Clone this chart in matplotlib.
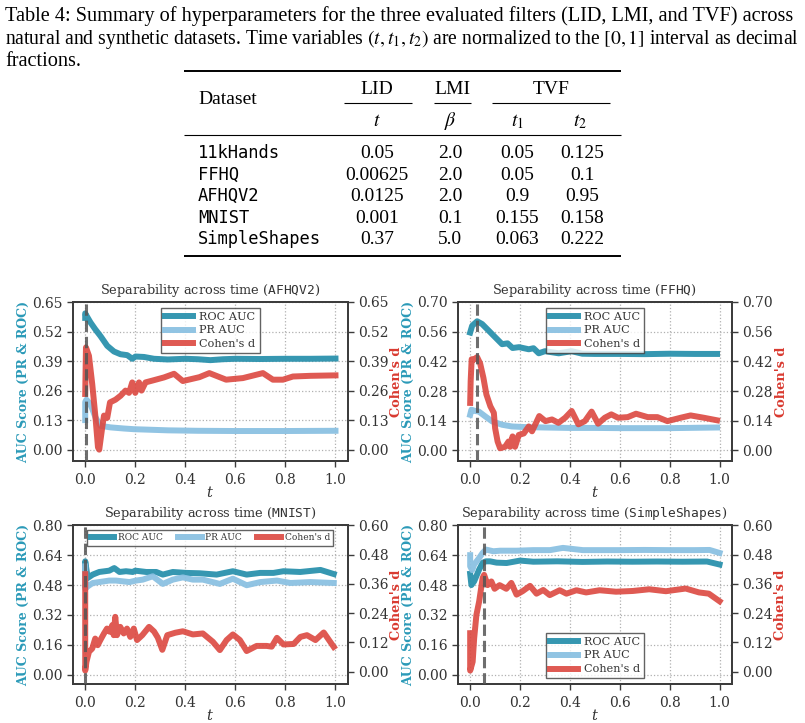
import matplotlib
matplotlib.use('Agg')
import matplotlib.pyplot as plt
from matplotlib.lines import Line2D

plt.rcParams['font.family'] = 'DejaVu Serif'
plt.rcParams['mathtext.fontset'] = 'dejavuserif'

# ---------------- table data ----------------
caption_lines = [
    "Table 4: Summary of hyperparameters for the three evaluated filters (LID, LMI, and TVF) across",
    "natural and synthetic datasets. Time variables $(t, t_1, t_2)$ are normalized to the $[0, 1]$ interval as decimal",
    "fractions.",
]
datasets = ['11kHands', 'FFHQ', 'AFHQV2', 'MNIST', 'SimpleShapes']
lid_t = ['0.05', '0.00625', '0.0125', '0.001', '0.37']
lmi_beta = ['2.0', '2.0', '2.0', '0.1', '5.0']
tvf_t1 = ['0.05', '0.05', '0.9', '0.155', '0.063']
tvf_t2 = ['0.125', '0.1', '0.95', '0.158', '0.222']

# ---------------- AFHQV2 ----------------
afhq_roc_t = [0.0, 0.0, 0.005, 0.021, 0.04, 0.061, 0.088, 0.115, 0.141, 0.168, 0.188, 0.201, 0.235, 0.275,
              0.33, 0.40, 0.45, 0.50, 0.55, 0.60, 0.70, 0.80, 0.90, 1.0]
afhq_roc_v = [0.58, 0.60, 0.59, 0.56, 0.53, 0.50, 0.457, 0.432, 0.42, 0.416, 0.40, 0.41, 0.408, 0.40,
              0.397, 0.40, 0.398, 0.394, 0.398, 0.40, 0.399, 0.40, 0.40, 0.401]
afhq_pr_t = [0.0, 0.0, 0.005, 0.021, 0.041, 0.061, 0.101, 0.155, 0.195, 0.25, 0.33, 0.45, 0.6, 0.8, 1.0]
afhq_pr_v = [0.13, 0.21, 0.22, 0.20, 0.142, 0.105, 0.098, 0.093, 0.09, 0.088, 0.085, 0.083, 0.082, 0.082, 0.083]
afhq_d_t = [0.0, 0.003, 0.015, 0.028, 0.041, 0.051, 0.056, 0.068, 0.075, 0.088, 0.099, 0.121, 0.141, 0.161,
            0.175, 0.188, 0.2, 0.215, 0.225, 0.241, 0.275, 0.315, 0.355, 0.39, 0.456, 0.496, 0.563, 0.63,
            0.71, 0.75, 0.79, 0.83, 0.9, 1.0]
afhq_d_v = [0.245, 0.45, 0.413, 0.289, 0.143, 0.01, 0.0, 0.098, 0.15, 0.14, 0.208, 0.22, 0.237, 0.26,
            0.25, 0.296, 0.25, 0.296, 0.26, 0.296, 0.306, 0.318, 0.334, 0.302, 0.319, 0.337, 0.308, 0.315,
            0.337, 0.308, 0.308, 0.322, 0.325, 0.327]
afhq_vline = 0.005

# ---------------- FFHQ ----------------
ffhq_roc_t = [0.0, 0.008, 0.028, 0.048, 0.075, 0.101, 0.128, 0.15, 0.17, 0.196, 0.235, 0.254, 0.275, 0.30,
              0.355, 0.407, 0.45, 0.5, 0.6, 0.7, 0.8, 0.9, 0.99]
ffhq_roc_v = [0.556, 0.588, 0.609, 0.596, 0.564, 0.533, 0.501, 0.505, 0.483, 0.487, 0.477, 0.482, 0.458, 0.468,
              0.458, 0.468, 0.456, 0.455, 0.455, 0.454, 0.456, 0.455, 0.455]
ffhq_pr_t = [0.0, 0.005, 0.02, 0.035, 0.061, 0.088, 0.128, 0.167, 0.22, 0.3, 0.4, 0.5, 0.6, 0.8, 0.99]
ffhq_pr_v = [0.168, 0.192, 0.186, 0.183, 0.16, 0.137, 0.121, 0.113, 0.11, 0.108, 0.106, 0.106, 0.105, 0.105, 0.108]
ffhq_d_t = [0.0, 0.002, 0.006, 0.01, 0.028, 0.04, 0.053, 0.065, 0.081, 0.095, 0.10, 0.11, 0.12, 0.14, 0.154,
            0.16, 0.17, 0.18, 0.195, 0.215, 0.235, 0.248, 0.277, 0.302, 0.328, 0.354, 0.381, 0.407, 0.434,
            0.46, 0.487, 0.513, 0.54, 0.566, 0.593, 0.632, 0.665, 0.712, 0.751, 0.791, 0.844, 0.884, 0.937, 0.99]
ffhq_d_v = [0.224, 0.327, 0.43, 0.425, 0.44, 0.41, 0.343, 0.264, 0.208, 0.177, 0.105, 0.042, 0.01, 0.017, 0.042,
            0.017, 0.066, 0.017, 0.073, 0.08, 0.113, 0.09, 0.162, 0.138, 0.146, 0.13, 0.154, 0.186, 0.123,
            0.138, 0.183, 0.126, 0.154, 0.17, 0.154, 0.157, 0.173, 0.157, 0.157, 0.138, 0.154, 0.165, 0.154, 0.142]
ffhq_vline = 0.028

# ---------------- MNIST ----------------
mnist_roc_t = [0.0, 0.0, 0.01, 0.03, 0.056, 0.096, 0.116, 0.137, 0.163, 0.19, 0.2, 0.244, 0.284, 0.31, 0.35,
               0.404, 0.458, 0.525, 0.59, 0.645, 0.699, 0.752, 0.792, 0.859, 0.94, 0.993]
mnist_roc_v = [0.48, 0.607, 0.518, 0.536, 0.55, 0.557, 0.571, 0.55, 0.554, 0.55, 0.557, 0.55, 0.55, 0.536, 0.55,
               0.545, 0.543, 0.536, 0.554, 0.536, 0.545, 0.545, 0.554, 0.55, 0.561, 0.539]
mnist_pr_t = [0.0, 0.0, 0.01, 0.03, 0.056, 0.096, 0.123, 0.15, 0.177, 0.203, 0.23, 0.27, 0.31, 0.35, 0.39,
              0.43, 0.47, 0.538, 0.59, 0.645, 0.70, 0.766, 0.82, 0.90, 0.993]
mnist_pr_v = [0.58, 0.46, 0.473, 0.491, 0.496, 0.504, 0.504, 0.50, 0.496, 0.504, 0.509, 0.527, 0.486, 0.509, 0.521,
              0.509, 0.509, 0.486, 0.514, 0.479, 0.496, 0.504, 0.491, 0.496, 0.491]
mnist_d_t = [0.0, 0.0, 0.005, 0.015, 0.028, 0.04, 0.05, 0.06, 0.075, 0.087, 0.098, 0.108, 0.114, 0.12, 0.127,
             0.14, 0.154, 0.167, 0.18, 0.194, 0.207, 0.228, 0.255, 0.275, 0.29, 0.308, 0.328, 0.36, 0.39,
             0.43, 0.47, 0.51, 0.538, 0.565, 0.59, 0.618, 0.645, 0.685, 0.725, 0.745, 0.766, 0.792, 0.833,
             0.86, 0.886, 0.92, 0.953, 0.993]
mnist_d_v = [0.40, 0.005, 0.041, 0.082, 0.095, 0.136, 0.109, 0.129, 0.157, 0.177, 0.164, 0.191, 0.15, 0.225, 0.15,
             0.184, 0.157, 0.177, 0.143, 0.177, 0.13, 0.15, 0.184, 0.165, 0.14, 0.09, 0.15, 0.16, 0.166,
             0.153, 0.157, 0.123, 0.089, 0.13, 0.153, 0.13, 0.085, 0.106, 0.106, 0.103, 0.139, 0.112, 0.114,
             0.143, 0.15, 0.13, 0.161, 0.102]
mnist_vline = 0.001

# ---------------- SimpleShapes ----------------
ss_roc_t = [0.0, 0.005, 0.016, 0.036, 0.05, 0.063, 0.08, 0.106, 0.146, 0.2, 0.253, 0.35, 0.45, 0.55, 0.65,
            0.75, 0.85, 0.95, 1.0]
ss_roc_v = [0.54, 0.48, 0.50, 0.563, 0.599, 0.607, 0.607, 0.60, 0.598, 0.611, 0.605, 0.607, 0.604, 0.606, 0.605,
            0.606, 0.605, 0.606, 0.59]
ss_pr_t = [0.0, 0.0, 0.008, 0.016, 0.036, 0.05, 0.063, 0.093, 0.12, 0.186, 0.253, 0.32, 0.372, 0.452, 0.519,
           0.6, 0.7, 0.8, 0.9, 0.96, 1.0]
ss_pr_v = [0.64, 0.58, 0.56, 0.59, 0.625, 0.652, 0.67, 0.661, 0.664, 0.664, 0.667, 0.667, 0.679, 0.667, 0.667,
           0.667, 0.668, 0.667, 0.667, 0.668, 0.652]
ss_d_t = [0.0, 0.0, 0.01, 0.016, 0.025, 0.036, 0.05, 0.056, 0.07, 0.085, 0.098, 0.118, 0.145, 0.165, 0.186,
          0.21, 0.24, 0.266, 0.293, 0.319, 0.359, 0.386, 0.426, 0.465, 0.519, 0.585, 0.652, 0.718, 0.785,
          0.864, 0.918, 0.957, 1.0]
ss_d_v = [0.158, 0.005, 0.041, 0.137, 0.233, 0.288, 0.384, 0.397, 0.355, 0.37, 0.34, 0.355, 0.34, 0.364, 0.316,
          0.33, 0.352, 0.32, 0.335, 0.314, 0.334, 0.32, 0.334, 0.325, 0.334, 0.328, 0.331, 0.338, 0.33,
          0.341, 0.325, 0.32, 0.289]
ss_vline = 0.056

x_ticks = [0.0, 0.2, 0.4, 0.6, 0.8, 1.0]
top_left_ticks_afhq = [0.0, 0.13, 0.26, 0.39, 0.52, 0.65]
top_left_ticks_ffhq = [0.0, 0.14, 0.28, 0.42, 0.56, 0.70]
bot_left_ticks = [0.0, 0.16, 0.32, 0.48, 0.64, 0.80]
bot_right_ticks = [0.0, 0.12, 0.24, 0.36, 0.48, 0.60]

C_ROC = '#2b92ad'
C_PR = '#8bc1e2'
C_D = '#dc4840'
C_LABEL_L = '#2b9ab8'
C_LABEL_R = '#d93a30'
SPINE = '#3c3c3c'
TXT = '#333333'

W, H = 805, 723
fig = plt.figure(figsize=(W / 100, H / 100), dpi=100)


def fx(px):
    return px / W


def fy(py):
    return 1 - py / H


def hrule(x0, x1, y, lw):
    fig.add_artist(Line2D([fx(x0), fx(x1)], [fy(y), fy(y)], transform=fig.transFigure,
                          color='black', lw=lw, solid_capstyle='butt'))


# ---------------- caption ----------------
serif = dict(family='Liberation Serif', math_fontfamily='stix', color='black')
cap_base = [21, 44, 66]
cap_size = [14.6, 14.1, 14.6]
for line, yb, fs in zip(caption_lines, cap_base, cap_size):
    fig.text(fx(5), fy(yb), line, ha='left', va='baseline', fontsize=fs, **serif)

# ---------------- table ----------------
TFS = 14
col_x = [377, 450, 517, 582]
hrule(184, 621, 70.7, 1.4)
hrule(184, 621, 135, 0.8)
hrule(184, 621, 256, 1.4)
fig.text(fx(198), fy(104.5), 'Dataset', ha='left', va='baseline', fontsize=TFS, **serif)
fig.text(fx(377), fy(94), 'LID', ha='center', va='baseline', fontsize=TFS, **serif)
fig.text(fx(452), fy(94), 'LMI', ha='center', va='baseline', fontsize=TFS, **serif)
fig.text(fx(551), fy(94), 'TVF', ha='center', va='baseline', fontsize=TFS, **serif)
hrule(344, 412, 103.3, 0.8)
hrule(434, 471, 103.3, 0.8)
hrule(492, 610, 103.3, 0.8)
for lab, xc in zip(['$t$', r'$\beta$', '$t_1$', '$t_2$'], [377, 450, 517, 580]):
    fig.text(fx(xc), fy(126), lab, ha='center', va='baseline', fontsize=TFS, **serif)
row_base = [158, 179.5, 201, 223, 244.5]
for i, yb in enumerate(row_base):
    fig.text(fx(198), fy(yb), datasets[i], ha='left', va='baseline', fontsize=12.3,
             family='DejaVu Sans Mono', color='black')
    for col, xc in zip([lid_t, lmi_beta, tvf_t1, tvf_t2], col_x):
        fig.text(fx(xc), fy(yb), col[i], ha='center', va='baseline', fontsize=TFS, **serif)


# ---------------- plots ----------------
def panel(rect, name, roc_t, roc_v, pr_t, pr_v, d_t, d_v, vline, lticks, rticks, leg):
    ax = fig.add_axes(rect)
    ax2 = ax.twinx()
    lw = 4.3
    h1, = ax.plot(roc_t, roc_v, color=C_ROC, lw=lw, alpha=0.95, label='ROC AUC')
    h2, = ax.plot(pr_t, pr_v, color=C_PR, lw=lw, alpha=0.95, label='PR AUC')
    h3, = ax2.plot(d_t, d_v, color=C_D, lw=lw, alpha=0.9, label="Cohen's d")
    ax2.axvline(vline, color='#555555', ls='--', lw=2.2, alpha=0.85, zorder=5)
    ax.set_xlim(-0.05, 1.05)
    ax.set_xticks(x_ticks)
    ax.set_xticklabels([f'{v:.1f}' for v in x_ticks])
    ax.set_ylim(-0.05, lticks[-1])
    ax.set_yticks(lticks)
    ax.set_yticklabels([f'{v:.2f}' for v in lticks])
    ax2.set_ylim(-0.05, rticks[-1])
    ax2.set_yticks(rticks)
    ax2.set_yticklabels([f'{v:.2f}' for v in rticks])
    ax.grid(True, ls=':', color='#b0b0b0', lw=0.9)
    ax.set_axisbelow(True)
    for a in (ax, ax2):
        for s in a.spines.values():
            s.set_color(SPINE)
            s.set_linewidth(1.3)
        a.tick_params(direction='out', length=4, width=1.0, color=SPINE, labelsize=10, labelcolor=TXT)
    ax.tick_params(axis='x', pad=4.5)
    ax.set_xlabel('$t$', fontsize=10.5, color=TXT, labelpad=-1.5)
    ax.set_ylabel('AUC Score (PR & ROC)', fontsize=9, fontweight='bold', color=C_LABEL_L, labelpad=1)
    ax2.set_ylabel("Cohen's d", fontsize=9.3, fontweight='bold', color=C_LABEL_R, labelpad=1)
    ax.set_title('Separability across time ($\\mathtt{' + name + '}$)', fontsize=9.3, color=TXT, pad=6)
    lg = ax2.legend(handles=[h1, h2, h3], fancybox=False, edgecolor=SPINE, framealpha=0.8, **leg)
    lg.get_frame().set_linewidth(1.0)
    for t in lg.get_texts():
        t.set_color(TXT)
    return ax, ax2


r_tl = [fx(72.7), fy(461), (348 - 72.7) / W, 159 / H]
r_tr = [fx(457.7), fy(461), (732 - 457.7) / W, 159 / H]
r_bl = [fx(72.7), fy(684), (348 - 72.7) / W, 158.7 / H]
r_br = [fx(457.7), fy(684), (732 - 457.7) / W, 158.7 / H]

leg_std = dict(fontsize=8.1, handlelength=2.5, borderpad=0.35, labelspacing=0.35, handletextpad=0.55)
panel(r_tl, 'AFHQV2', afhq_roc_t, afhq_roc_v, afhq_pr_t, afhq_pr_v, afhq_d_t, afhq_d_v, afhq_vline,
      top_left_ticks_afhq, top_left_ticks_afhq, dict(loc='upper center', **leg_std))
panel(r_tr, 'FFHQ', ffhq_roc_t, ffhq_roc_v, ffhq_pr_t, ffhq_pr_v, ffhq_d_t, ffhq_d_v, ffhq_vline,
      top_left_ticks_ffhq, top_left_ticks_ffhq, dict(loc='upper center', **leg_std))
panel(r_bl, 'MNIST', mnist_roc_t, mnist_roc_v, mnist_pr_t, mnist_pr_v, mnist_d_t, mnist_d_v, mnist_vline,
      bot_left_ticks, bot_right_ticks,
      dict(loc='upper center', fontsize=6.5, ncol=3, columnspacing=1.7, handlelength=2.6,
           borderpad=0.4, handletextpad=0.4))
panel(r_br, 'SimpleShapes', ss_roc_t, ss_roc_v, ss_pr_t, ss_pr_v, ss_d_t, ss_d_v, ss_vline,
      bot_left_ticks, bot_right_ticks, dict(loc='lower center', **leg_std))

fig.savefig('out.png', dpi=100)
